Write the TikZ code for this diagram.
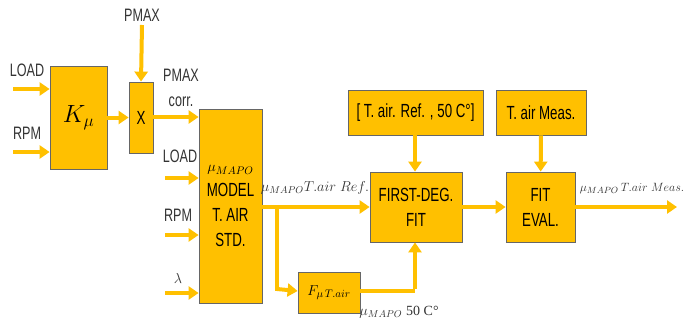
\documentclass[tikz,border=0pt]{standalone}
\usepackage{fontspec}
\setmainfont[FakeStretch=0.7]{Liberation Sans}
\newfontfamily\serifnum{Liberation Serif}
\usepackage{xcolor}
\usetikzlibrary{arrows.meta}
\definecolor{gold}{HTML}{FFC000}

\begin{document}
\begin{tikzpicture}[
    x=1pt, y=-1pt,
    % Define styles
    block/.style={rectangle, draw=black!60, fill=gold, line width=0.8pt, inner sep=0pt, align=center, font=\fontsize{19}{25}\selectfont},
    arrow/.style={-{Triangle[length=10pt,width=13pt]}, line width=4pt, gold},
    line/.style={line width=4pt, gold},
    lbl/.style={inner sep=0pt, font=\fontsize{18}{20}\selectfont, text=black!80},
    mlbl/.style={inner sep=0pt, font=\fontsize{14}{18}\selectfont, text=black!80}
]
\useasboundingbox (0,0) rectangle (688,329);

% Main blocks
\node[block, minimum width=57pt, minimum height=103pt, font=\fontsize{24}{26}\selectfont] (kmu) at (78.5,117.5) {$K_\mu$};
\node[block, minimum width=24pt, minimum height=71pt] (mult) at (141,117.5) {X};
\node[block, minimum width=63pt, minimum height=194pt] (model) at (230.5,206) {{\fontsize{15}{25}\selectfont$\mu_{MAPO}$}\\MODEL\\T. AIR\\STD.};
\node[block, minimum width=92pt, minimum height=70pt] (fit) at (416,207) {FIRST-DEG.\\FIT};
\node[block, minimum width=69pt, minimum height=70pt] (eval) at (540.5,207) {FIT\\EVAL.};
\node[block, minimum width=62pt, minimum height=41pt, font=\fontsize{15}{18}\selectfont] (fmu) at (329,292.5) {$F_{\mu\,T.air}$};

% Reference blocks
\node[block, minimum width=135pt, minimum height=45pt] (ref) at (415.5,112.5) {[ T. air. Ref. , 50 C\textdegree]};
\node[block, minimum width=90pt, minimum height=45pt] (meas) at (541,112.5) {T. air Meas.};

% Free ends of the inputs and the output
\coordinate (loadin) at (13,89);
\coordinate (rpmin) at (13,152);
\coordinate (pmaxin) at (142,25);
\coordinate (loadtwo) at (165,178);
\coordinate (rpmtwo) at (165,235);
\coordinate (lambdain) at (165,293);
\coordinate (split) at (277,207);
\coordinate (splitdown) at (277,291);
\coordinate (fitin) at (415,291);
\coordinate (out) at (677,207);

% Labels
\node[lbl] (loadlbl) at (27,70) {LOAD};
\node[lbl] (rpmlbl) at (27,133) {RPM};
\node[lbl] (pmaxlbl) at (142,15) {PMAX};
\node[lbl, align=center, font=\fontsize{18}{25}\selectfont] (corrlbl) at (181,88) {PMAX\\corr.};
\node[lbl] (loadtwolbl) at (180,156) {LOAD};
\node[lbl] (rpmtwolbl) at (178,215) {RPM};
\node[mlbl] (lambdalbl) at (178,278) {$\lambda$};
\node[mlbl] (reflbl) at (315,188) {$\mu_{MAPO}T.air\;Ref.$};
\node[mlbl] (fiftylbl) at (399,312) {$\mu_{MAPO}$\;{\serifnum 50 C\textdegree}};
\node[mlbl, font=\fontsize{13}{16}\selectfont] (measlbl) at (632,189) {$\mu_{MAPO}\,T.air\;Meas.$};

% Connections
\draw[arrow] (loadin) -- (kmu.west |- loadin);
\draw[arrow] (rpmin) -- (kmu.west |- rpmin);
\draw[arrow] (kmu) -- (mult);
\draw[arrow] (pmaxin) -- (mult.north);
\draw[arrow] (mult.east |- 0,117) -- (model.west |- 0,117);
\draw[arrow] (loadtwo) -- (model.west |- loadtwo);
\draw[arrow] (rpmtwo) -- (model.west |- rpmtwo);
\draw[arrow] (lambdain) -- (model.west |- lambdain);
\draw[arrow] (model.east |- fit) -- (fit);

% Branch through the correction block
\draw[line] (split) -- (splitdown);
\draw[arrow] ([yshift=2pt]splitdown) -- (fmu.west |- splitdown);
\draw[line] (fmu.east |- fitin) -- (fitin);
\draw[arrow] ([yshift=2pt]fitin) -- (fit.south -| fitin);

% Reference inputs
\draw[arrow] (ref.south -| fitin) -- (fit.north -| fitin);
\draw[arrow] (meas) -- (eval);

% Fit to evaluation and output
\draw[arrow] (fit) -- (eval);
\draw[arrow] (eval) -- (out);

\end{tikzpicture}
\end{document}
